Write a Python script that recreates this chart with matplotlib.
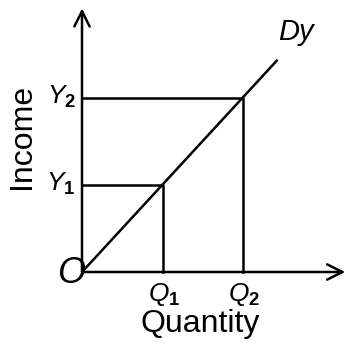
import matplotlib.pyplot as plt

plt.rcParams["font.family"] = "Liberation Sans"
plt.rcParams["mathtext.fontset"] = "custom"
plt.rcParams["mathtext.rm"] = "Liberation Sans:bold"
plt.rcParams["mathtext.it"] = "Liberation Sans:italic"

# demand curve Dy (quantity vs income), drawn in arbitrary units
dy_quantity = [0, 2.43]
dy_income = [0, 2.44]

# marked points on the curve
quantities = [1.0, 2.0]
incomes = [1.0, 2.0]
q_labels = [r"$Q_\mathrm{1}$", r"$Q_\mathrm{2}$"]
y_labels = [r"$Y_\mathrm{1}$", r"$Y_\mathrm{2}$"]

x_max = 3.27
y_max = 3.03

fig = plt.figure(figsize=(3.49, 3.45), dpi=100)
ax = fig.add_axes([82 / 349, 73 / 345, (349 - 82) / 349, (345 - 73) / 345])
ax.set_xlim(0, (349 - 82) / 80.5)
ax.set_ylim(0, (345 - 73) / 87)
ax.axis("off")

lw = 1.8
arrow = dict(arrowstyle="->,head_length=1.1,head_width=0.55", lw=lw, color="black",
             shrinkA=0, shrinkB=0)
ax.annotate("", xy=(x_max, 0), xytext=(0, 0), arrowprops=arrow, annotation_clip=False)
ax.annotate("", xy=(0, y_max), xytext=(0, 0), arrowprops=arrow, annotation_clip=False)

ax.plot(dy_quantity, dy_income, color="black", lw=lw, solid_capstyle="butt", clip_on=False)

for q, y, ql, yl in zip(quantities, incomes, q_labels, y_labels):
    ax.plot([q, q, 0], [0, y, y], color="black", lw=lw, clip_on=False)
    ax.annotate(ql, xy=(q, 0), xytext=(1, -16), textcoords="offset points",
                ha="center", va="center", fontsize=19, annotation_clip=False)
    ax.annotate(yl, xy=(0, y), xytext=(-15, 1), textcoords="offset points",
                ha="center", va="center", fontsize=19, annotation_clip=False)

ax.annotate("O", xy=(0, 0), xytext=(-8, -1), textcoords="offset points",
            ha="center", va="center", fontsize=26, style="italic",
            annotation_clip=False)
ax.annotate("Dy", xy=(dy_quantity[1], dy_income[1]), xytext=(13, 20),
            textcoords="offset points", ha="center", va="center", fontsize=21,
            style="italic", annotation_clip=False)

fig.text(200 / 349, 1 - 324 / 345, "Quantity", ha="center", va="center", fontsize=23)
fig.text(22 / 349, 1 - 136 / 345, "Income", ha="center", va="center", fontsize=23,
         rotation=90)

fig.savefig("out.png", dpi=100)
